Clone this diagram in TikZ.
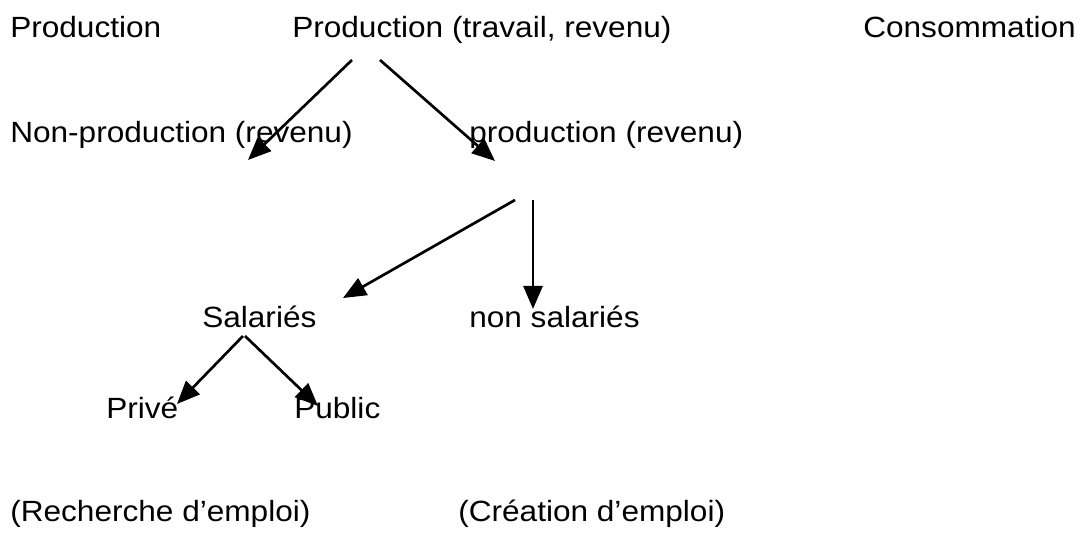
\documentclass[tikz,border=0pt]{standalone}
\usepackage{fontspec}
\setmainfont[FakeStretch=1.08]{Liberation Sans}
\usetikzlibrary{arrows.meta}

\tikzset{
  lbl/.style={anchor=base west, inner sep=0pt, font=\fontsize{20.8}{25}\selectfont},
  fl/.style={-{Triangle[length=23*0.025cm,width=19*0.025cm]}, line width=1.9pt}
}

\begin{document}
\begin{tikzpicture}[x=0.025cm,y=-0.025cm]
  \useasboundingbox (0,0) rectangle (1081,538);
  % first row
  \node[lbl] (prod) at (10,38) {Production};
  \node[lbl] (top) at (292,38) {Production (travail, revenu)};
  \node[lbl] (cons) at (863,38) {Consommation};
  % second row
  \node[lbl] (nonprod) at (10,143) {Non-production (revenu)};
  \node[lbl] (prodrev) at (469,143) {production (revenu)};
  % third row
  \node[lbl] (sal) at (202,327) {Salariés};
  \node[lbl] (nonsal) at (469,327) {non salariés};
  % fourth row
  \node[lbl] (prive) at (106,418) {Privé};
  \node[lbl] (public) at (294,418) {Public};
  % bottom
  \node[lbl] (rech) at (10,521) {(Recherche d’emploi)};
  \node[lbl] (crea) at (458,521) {(Création d’emploi)};

  % arrow ends
  \coordinate (a1) at (352,60);  \coordinate (b1) at (248,160);
  \coordinate (a2) at (380,60);  \coordinate (b2) at (495,161);
  \coordinate (a3) at (515,200); \coordinate (b3) at (343,298);
  \coordinate (a4) at (533,200); \coordinate (b4) at (533,309);
  \coordinate (a5) at (243,336); \coordinate (b5) at (177,404);
  \coordinate (a6) at (245,336); \coordinate (b6) at (318,406);

  \foreach \i in {1,...,6}
    \draw[fl] (a\i) -- (b\i);
\end{tikzpicture}
\end{document}
